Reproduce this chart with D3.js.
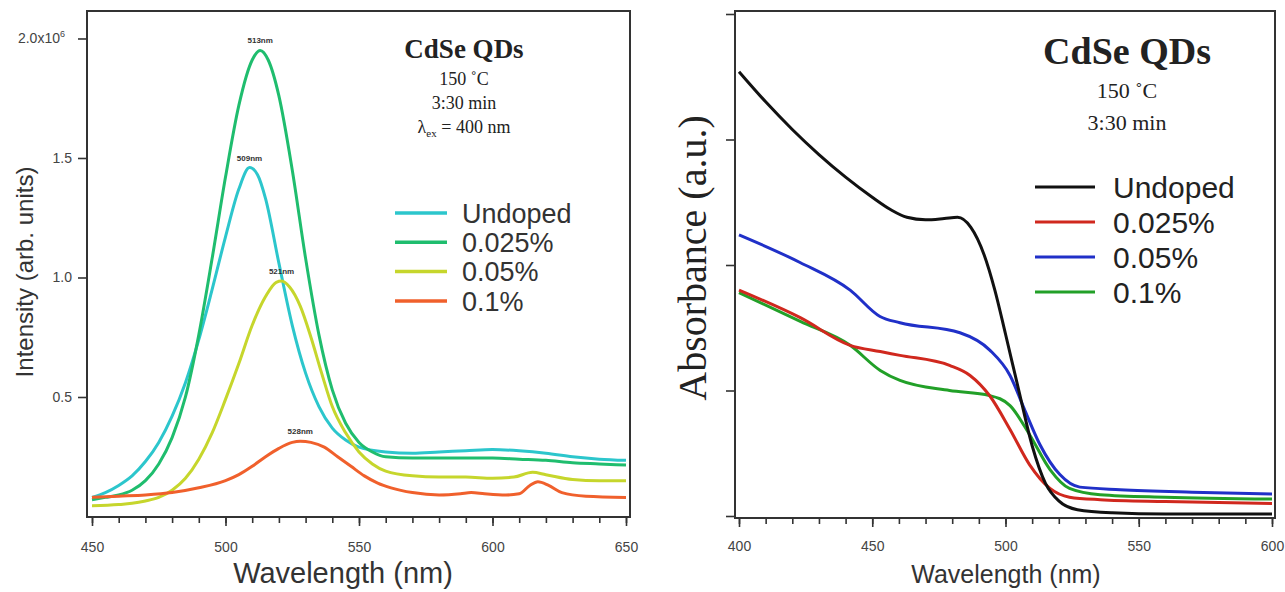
<!DOCTYPE html>
<html>
<head>
<meta charset="utf-8">
<script src="https://cdn.jsdelivr.net/npm/d3@7/dist/d3.min.js"></script>
<style>
  body { margin: 0; background: #fff; }
  svg { display: block; }
  .tick text { font-family: Arial, "Liberation Sans", sans-serif; fill: #444; }
  .tick line { stroke: #333; stroke-width: 1.6; }
</style>
</head>
<body>
<script>
// ---- photoluminescence (left panel), intensity in units of 1e6 ----
var plWave = {
  undoped: [450,455,460,465,470,475,480,485,490,495,500,505,509,512,515,520,525,530,535,540,545,550,560,570,580,590,600,610,620,630,640,650],
  d025:    [450,455,460,465,470,475,480,485,490,495,500,505,510,513,516,520,525,530,535,540,545,550,555,560,570,580,590,600,610,620,630,640,650],
  d05:     [450,460,465,470,475,480,485,490,495,500,505,510,515,519,521,524,528,532,536,540,545,550,555,560,570,580,590,600,608,615,620,630,640,650],
  d1:      [450,460,470,480,490,500,505,510,515,520,525,528,532,537,542,547,552,557,562,570,580,588,592,597,605,610,614,617,621,626,635,650]
};
var plUndoped = [0.08,0.10,0.13,0.17,0.23,0.31,0.42,0.56,0.74,0.95,1.17,1.37,1.46,1.43,1.33,1.06,0.80,0.60,0.46,0.37,0.32,0.29,0.27,0.265,0.27,0.275,0.28,0.275,0.265,0.25,0.24,0.235];
var pl025 = [0.07,0.08,0.09,0.11,0.15,0.22,0.33,0.50,0.76,1.08,1.42,1.72,1.91,1.95,1.91,1.76,1.45,1.08,0.76,0.53,0.39,0.31,0.27,0.25,0.245,0.245,0.245,0.245,0.24,0.235,0.225,0.22,0.215];
var pl05 = [0.045,0.05,0.055,0.065,0.08,0.11,0.16,0.24,0.35,0.49,0.64,0.80,0.92,0.98,0.985,0.96,0.88,0.75,0.60,0.46,0.35,0.27,0.22,0.19,0.17,0.165,0.165,0.16,0.165,0.185,0.175,0.155,0.15,0.15];
var pl1 = [0.08,0.085,0.09,0.10,0.12,0.15,0.175,0.21,0.25,0.285,0.31,0.315,0.31,0.29,0.25,0.21,0.17,0.14,0.12,0.10,0.09,0.095,0.10,0.095,0.09,0.095,0.13,0.145,0.13,0.10,0.085,0.08];
var plLabels = ["Undoped", "0.025%", "0.05%", "0.1%"];
var plColors = ["#2cc6cc", "#1fbd6e", "#c6d62c", "#f0602c"];
var peakText = ["509nm", "513nm", "521nm", "528nm"];
var peakAt = [[509, 1.46], [513, 1.95], [521, 0.985], [528, 0.315]];

// ---- absorbance (right panel), arbitrary units ----
var absWave = {
  undoped: [400,410,420,430,440,450,457,463,470,477,482,487,492,496,500,505,510,515,520,527,540,560,600],
  d025:    [400,423,441.7,453,460.4,479,486.7,494,501.7,509,516.7,524,535.5,560,600],
  d05:     [400,422.9,441.7,452.9,460.4,482.9,494.2,501.7,507.3,512.9,520.4,527.9,543,570,600],
  d1:      [400,423,441.7,453,460.4,479,494,501.7,509,516.7,524,535.5,560,600]
};
var absUndoped = [3.54,3.30,3.08,2.88,2.70,2.54,2.44,2.38,2.36,2.37,2.38,2.30,2.08,1.80,1.45,1.00,0.56,0.26,0.12,0.05,0.025,0.015,0.015];
var abs025 = [1.80,1.58,1.36,1.31,1.28,1.20,1.12,0.96,0.69,0.41,0.22,0.15,0.13,0.115,0.10];
var abs05 = [2.24,2.02,1.80,1.59,1.54,1.46,1.32,1.12,0.84,0.57,0.33,0.23,0.21,0.19,0.175];
var abs1 = [1.78,1.55,1.36,1.16,1.08,1.00,0.96,0.88,0.65,0.37,0.22,0.17,0.15,0.135];
var absLabels = ["Undoped", "0.025%", "0.05%", "0.1%"];
var absColors = ["#111111", "#d0281e", "#2030c8", "#22a028"];

var svg = d3.select("body").append("svg")
    .attr("width", 1285)
    .attr("height", 592);

function zip(xs, ys) { return xs.map(function(x, i) { return [x, ys[i]]; }); }

// ================= left panel =================
var xL = d3.scaleLinear().domain([450, 650]).range([92, 626]);
var yL = d3.scaleLinear().domain([0, 2.115]).range([516.5, 11]);
var left = svg.append("g");

var lineL = d3.line()
    .x(function(d) { return xL(d[0]); })
    .y(function(d) { return yL(d[1]); })
    .curve(d3.curveMonotoneX);

var plSeries = [zip(plWave.undoped, plUndoped), zip(plWave.d025, pl025), zip(plWave.d05, pl05), zip(plWave.d1, pl1)];
// draw in the order that gives the overlap of the original
[0, 2, 1, 3].forEach(function(i) {
  left.append("path")
      .attr("d", lineL(plSeries[i]))
      .attr("fill", "none")
      .attr("stroke", plColors[i])
      .attr("stroke-width", 3);
});

left.selectAll(".peak")
    .data(peakAt)
  .enter().append("text")
    .attr("class", "peak")
    .attr("x", function(d) { return xL(d[0]); })
    .attr("y", function(d) { return yL(d[1]) - 7; })
    .attr("text-anchor", "middle")
    .style("font", "bold 8px Arial, sans-serif")
    .attr("fill", "#333")
    .text(function(d, i) { return peakText[i]; });

// frame
left.append("rect")
    .attr("x", 87).attr("y", 11)
    .attr("width", 543).attr("height", 506)
    .attr("fill", "none").attr("stroke", "#333").attr("stroke-width", 2);

var minorL = d3.range(450, 651, 10);
left.append("g")
    .attr("transform", "translate(0,517)")
    .call(d3.axisBottom(xL).tickValues(minorL).tickSize(6).tickFormat(""))
    .call(function(g) { g.select(".domain").remove(); });
left.append("g")
    .attr("transform", "translate(0,517)")
    .call(d3.axisBottom(xL).tickValues([450, 500, 550, 600, 650]).tickSize(9).tickPadding(16).tickFormat(d3.format("d")))
    .call(function(g) { g.select(".domain").remove(); g.selectAll("text").style("font-size", "14px"); });

var yAxisL = left.append("g")
    .attr("transform", "translate(87,0)")
    .call(d3.axisLeft(yL).tickValues([0.5, 1.0, 1.5, 2.0]).tickSize(9).tickPadding(6)
      .tickFormat(function(d) { return d === 2 ? "2.0x10" : d3.format(".1f")(d); }))
    .call(function(g) { g.select(".domain").remove(); g.selectAll("text").style("font-size", "14px"); });
yAxisL.selectAll(".tick text")
    .filter(function(d) { return d === 2; })
    .attr("dx", "-7")
    .append("tspan").attr("dy", "-6").style("font-size", "9px").text("6");

left.append("text")
    .attr("transform", "translate(33,272) rotate(-90)")
    .attr("text-anchor", "middle")
    .style("font", "24px Arial, 'Liberation Sans', sans-serif")
    .attr("fill", "#333")
    .text("Intensity (arb. units)");

left.append("text")
    .attr("x", 343).attr("y", 583)
    .attr("text-anchor", "middle")
    .style("font", "29px Arial, 'Liberation Sans', sans-serif")
    .attr("fill", "#333")
    .text("Wavelength (nm)");

// annotation
var noteL = left.append("g").attr("transform", "translate(464,0)")
    .style("font-family", "'Liberation Serif', 'DejaVu Serif', serif")
    .attr("text-anchor", "middle").attr("fill", "#222");
noteL.append("text").attr("y", 58).style("font-size", "27px").style("font-weight", "bold").text("CdSe QDs");
noteL.append("text").attr("y", 85).style("font-size", "18px").text("150 \u02DAC");
noteL.append("text").attr("y", 109).style("font-size", "18px").text("3:30 min");
var lam = noteL.append("text").attr("y", 133).style("font-size", "18px");
lam.append("tspan").text("\u03BB");
lam.append("tspan").attr("dy", 4).style("font-size", "11px").text("ex");
lam.append("tspan").attr("dy", -4).text(" = 400 nm");

// legend
var legL = left.selectAll(".legL")
    .data(plLabels)
  .enter().append("g")
    .attr("transform", function(d, i) { return "translate(395," + (213 + i * 29.3) + ")"; });
legL.append("line").attr("x1", 0).attr("x2", 52)
    .attr("stroke", function(d, i) { return plColors[i]; }).attr("stroke-width", 3.5);
legL.append("text").attr("x", 67).attr("dy", "0.36em")
    .style("font", "27px Arial, 'Liberation Sans', sans-serif").attr("fill", "#333")
    .text(function(d) { return d; });

// ================= right panel =================
var xR = d3.scaleLinear().domain([400, 600]).range([739, 1272]);
var yR = d3.scaleLinear().domain([0, 4]).range([516, 14]);
var right = svg.append("g");

var lineR = d3.line()
    .x(function(d) { return xR(d[0]); })
    .y(function(d) { return yR(d[1]); })
    .curve(d3.curveMonotoneX);

var absSeries = [zip(absWave.undoped, absUndoped), zip(absWave.d025, abs025), zip(absWave.d05, abs05), zip(absWave.d1, abs1)];
[3, 1, 2, 0].forEach(function(i) {
  right.append("path")
      .attr("d", lineR(absSeries[i]))
      .attr("fill", "none")
      .attr("stroke", absColors[i])
      .attr("stroke-width", 3);
});

right.append("rect")
    .attr("x", 735).attr("y", 11)
    .attr("width", 540).attr("height", 507)
    .attr("fill", "none").attr("stroke", "#333").attr("stroke-width", 2);

right.append("g")
    .attr("transform", "translate(0,518)")
    .call(d3.axisBottom(xR).tickValues(d3.range(400, 601, 10)).tickSize(6).tickFormat(""))
    .call(function(g) { g.select(".domain").remove(); });
right.append("g")
    .attr("transform", "translate(0,518)")
    .call(d3.axisBottom(xR).tickValues([400, 450, 500, 550, 600]).tickSize(9).tickPadding(14).tickFormat(d3.format("d")))
    .call(function(g) { g.select(".domain").remove(); g.selectAll("text").style("font-size", "14px"); });
right.append("g")
    .attr("transform", "translate(735,0)")
    .call(d3.axisLeft(yR).tickValues([0, 1, 2, 3, 4]).tickSize(9).tickFormat(""))
    .call(function(g) { g.select(".domain").remove(); });

right.append("text")
    .attr("transform", "translate(706,258) rotate(-90)")
    .attr("text-anchor", "middle")
    .style("font", "40px 'Liberation Serif', 'DejaVu Serif', serif")
    .attr("fill", "#222")
    .text("Absorbance (a.u.)");

right.append("text")
    .attr("x", 1006).attr("y", 583)
    .attr("text-anchor", "middle")
    .style("font", "25px Arial, 'Liberation Sans', sans-serif")
    .attr("fill", "#333")
    .text("Wavelength (nm)");

var noteR = right.append("g").attr("transform", "translate(1127,0)")
    .style("font-family", "'Liberation Serif', 'DejaVu Serif', serif")
    .attr("text-anchor", "middle").attr("fill", "#222");
noteR.append("text").attr("y", 64).style("font-size", "38px").style("font-weight", "bold").text("CdSe QDs");
noteR.append("text").attr("y", 98).style("font-size", "22px").text("150 \u02DAC");
noteR.append("text").attr("y", 130).style("font-size", "22px").text("3:30 min");

var legR = right.selectAll(".legR")
    .data(absLabels)
  .enter().append("g")
    .attr("transform", function(d, i) { return "translate(1035," + (187 + i * 35) + ")"; });
legR.append("line").attr("x1", 0).attr("x2", 60)
    .attr("stroke", function(d, i) { return absColors[i]; }).attr("stroke-width", 3);
legR.append("text").attr("x", 78).attr("dy", "0.36em")
    .style("font", "30px Arial, 'Liberation Sans', sans-serif").attr("fill", "#222")
    .text(function(d) { return d; });
</script>
</body>
</html>
